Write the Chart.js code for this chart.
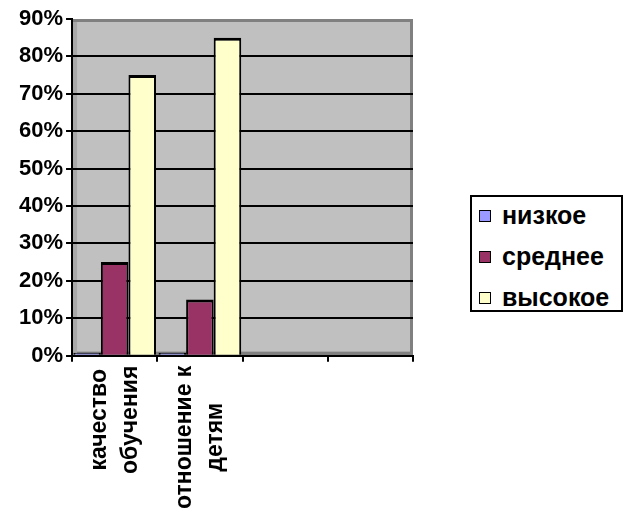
<!DOCTYPE html>
<html>
<head>
<meta charset="utf-8">
<script src="https://cdn.jsdelivr.net/npm/chart.js@4/dist/chart.umd.min.js"></script>
<style>
    html, body { margin: 0; padding: 0; background: #fff; }
    #wrap { position: relative; width: 624px; height: 515px; }
    #legend {
        position: absolute; left: 470px; top: 195px; width: 149px; height: 113px;
        border: 2px solid #000; background: #fff;
        font: bold 25px Arial, "Liberation Sans", sans-serif; color: #000;
    }
    #legend .item { position: absolute; left: 7px; height: 28px; line-height: 28px; white-space: nowrap; }
    #legend .box {
        display: inline-block; width: 10px; height: 10px; border: 1.5px solid #000;
        margin-right: 11px; vertical-align: 2px;
    }
</style>
</head>
<body>
<div id="wrap">
    <canvas id="chart" width="624" height="515"></canvas>
    <div id="legend"></div>
</div>
<script>
// ======================
// Data
// ======================
const categories = [['качество', 'обучения'], ['отношение к', 'детям'], '', ''];
const seriesNames = ['низкое', 'среднее', 'высокое'];
const lowValues = [0, 0, null, null];
const midValues = [25, 15, null, null];
const highValues = [75, 85, null, null];
const seriesColors = ['#9999FF', '#993366', '#FFFFCC'];
const yTicks = [0, 10, 20, 30, 40, 50, 60, 70, 80, 90];

const font = { family: 'Arial, "Liberation Sans", sans-serif', size: 22, weight: 'bold' };

// gray plot wall, drawn before grid lines
const plotWall = {
    id: 'plotWall',
    beforeDraw(chart) {
        const { ctx, chartArea: a } = chart;
        ctx.save();
        ctx.fillStyle = '#808080';
        ctx.fillRect(a.left, a.top, a.right - a.left, a.bottom - a.top);
        ctx.fillStyle = '#A8A8A8';
        ctx.fillRect(a.left, a.top + 3, 5, a.bottom - a.top - 3);
        ctx.fillStyle = '#C0C0C0';
        ctx.fillRect(a.left + 5, a.top + 3, a.right - a.left - 8, a.bottom - a.top - 7);
        ctx.restore();
    }
};

// rotated category labels: centre the lines of each label on each other
const centerLabels = {
    id: 'centerLabels',
    beforeDraw(chart) {
        const scale = chart.scales.x;
        const items = scale.getLabelItems();
        const ctx = chart.ctx;
        items.forEach(item => {
            if (item._centered) return;
            const lines = Array.isArray(item.label) ? item.label : [item.label];
            ctx.save();
            ctx.font = item.font.string;
            const w = Math.max(...lines.map(l => ctx.measureText(l).width));
            ctx.restore();
            item.options.textAlign = 'center';
            item.options.translation = [item.options.translation[0], item.options.translation[1] + w / 2];
            item._centered = true;
        });
    }
};

const allValues = [lowValues, midValues, highValues];

new Chart(document.getElementById('chart'), {
    type: 'bar',
    data: {
        labels: categories,
        datasets: seriesNames.map((name, i) => ({
            label: name,
            data: allValues[i],
            backgroundColor: seriesColors[i],
            borderColor: '#000',
            borderWidth: { top: 3, left: 2, right: 2, bottom: 0 },
            borderSkipped: false,
            minBarLength: i === 0 ? 3 : 0,
            categoryPercentage: 0.97,
            barPercentage: 1
        }))
    },
    options: {
        responsive: false,
        animation: false,
        layout: { padding: { left: 16, top: 19, right: 211, bottom: 2 } },
        plugins: {
            legend: { display: false },
            tooltip: { enabled: false }
        },
        scales: {
            x: {
                grid: { drawOnChartArea: false, drawTicks: true, tickLength: 6, tickColor: '#000', lineWidth: 2 },
                border: { display: true, color: '#000', width: 2 },
                ticks: {
                    color: '#000',
                    font: { ...font, size: 23, lineHeight: 1.35 },
                    minRotation: 90,
                    maxRotation: 90,
                    autoSkip: false,
                    padding: 4,
                    labelOffset: -15
                }
            },
            y: {
                min: 0,
                max: 90,
                afterBuildTicks(axis) { axis.ticks = yTicks.map(v => ({ value: v })); },
                grid: {
                    color: ctx => (ctx.tick && ctx.tick.value === 90 ? 'rgba(0,0,0,0)' : '#000'),
                    tickColor: '#000',
                    lineWidth: 2,
                    tickLength: 6
                },
                border: { display: true, color: '#000', width: 2 },
                ticks: {
                    color: '#000',
                    font: font,
                    padding: 3,
                    callback: v => v + '%'
                }
            }
        }
    },
    plugins: [plotWall, centerLabels]
});

// ======================
// Legend
// ======================
const legend = document.getElementById('legend');
seriesNames.forEach((name, i) => {
    const item = document.createElement('div');
    item.className = 'item';
    item.style.top = (4 + i * 41) + 'px';
    item.innerHTML = '<span class="box" style="background:' + seriesColors[i] + '"></span>' + name;
    legend.appendChild(item);
});
</script>
</body>
</html>
